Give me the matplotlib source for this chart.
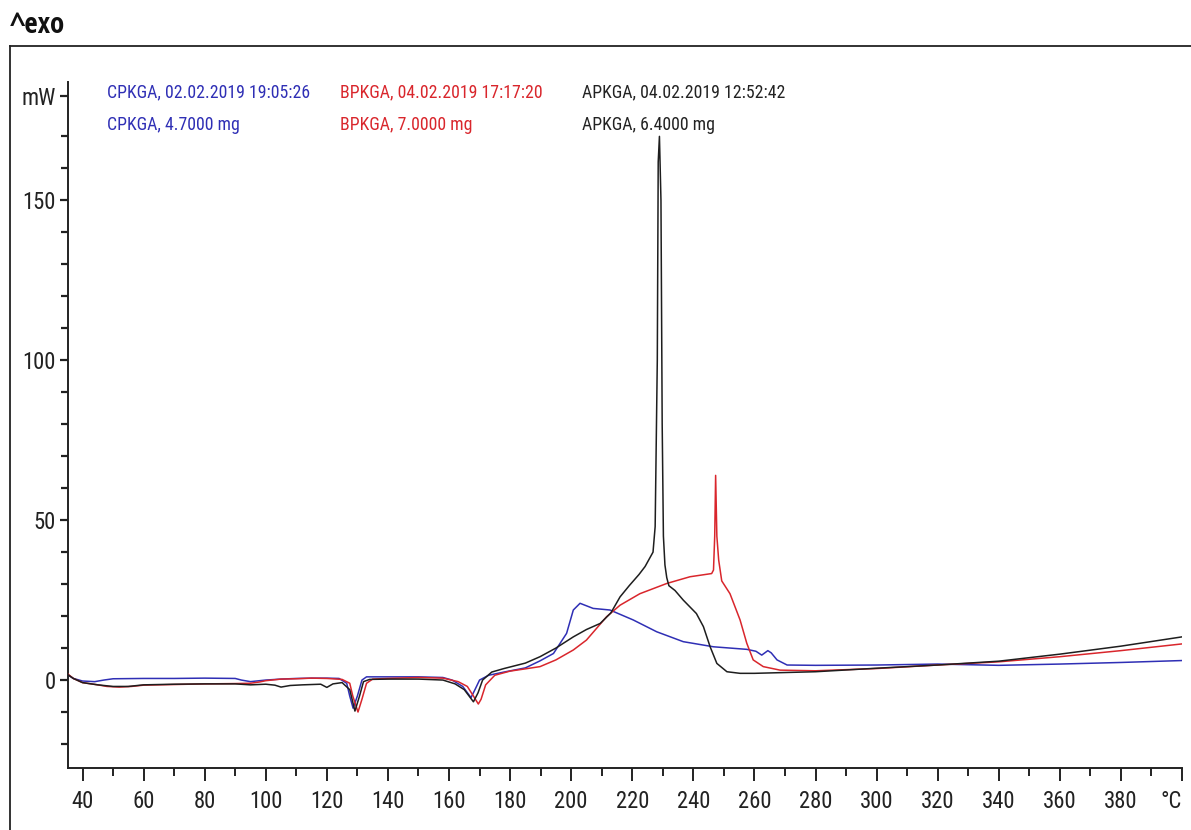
import matplotlib
matplotlib.use("Agg")
import matplotlib.pyplot as plt
from matplotlib.lines import Line2D
from matplotlib.ticker import MultipleLocator, FixedLocator
from matplotlib import font_manager
from matplotlib.font_manager import FontProperties
from matplotlib.textpath import TextPath
from matplotlib.ft2font import FT2Font

# ---- data (temperature in °C, heat flow in mW) ----
apkga_t = [35.3, 37, 40, 45, 50, 55, 60, 70, 80, 90, 95, 100, 103, 105, 108, 112, 118,
           120, 122, 125, 127.5, 129.2, 130.7, 132, 134, 140, 150, 158, 162, 165, 168,
           169.5, 171, 174, 178, 185, 189.8, 195, 200.7, 205, 209.5, 213, 216, 219,
           222.2, 224.2, 226.8, 227.5, 228.2, 228.5, 228.9, 229.4, 229.8, 230.2, 230.7,
           231.3, 232, 234, 236.7, 241, 243.3, 245.5, 247.7, 251, 255.3, 260, 280, 300,
           320, 340, 360, 380, 400]
apkga_mw = [1.6, 0.5, -0.8, -1.5, -2.0, -2.0, -1.5, -1.3, -1.2, -1.2, -1.5, -1.3, -1.6,
            -2.2, -1.7, -1.5, -1.3, -2.3, -1.2, -0.8, -3.0, -9.7, -5.0, -0.5, 0.2, 0.3,
            0.3, 0.0, -1.2, -3.0, -6.8, -4.0, 0.0, 2.5, 3.6, 5.3, 7.3, 10.0, 13.5, 15.8,
            17.7, 21.0, 26.0, 29.5, 33.0, 35.5, 40.0, 48.0, 100.0, 162.0, 170.0, 150.0,
            80.0, 45.0, 36.0, 32.0, 29.5, 28.0, 25.0, 20.8, 16.7, 10.4, 5.2, 2.6, 2.1,
            2.1, 2.6, 3.7, 4.7, 5.9, 8.1, 10.6, 13.5]

bpkga_t = [35.3, 37, 40, 45, 48, 52, 56, 60, 70, 80, 90, 95, 98, 100, 105, 110, 115, 120,
           125, 127.5, 128.5, 130.2, 131.5, 133, 135, 140, 150, 158, 163, 166, 168,
           169.6, 170.5, 172, 175, 180, 185, 189.8, 195, 200.7, 205, 211.6, 216, 222.5,
           231.3, 238.9, 246, 246.6, 247.0, 247.3, 247.7, 248.3, 249.3, 252, 255.3,
           257.5, 259.6, 262.9, 268.4, 280, 300, 320, 340, 360, 380, 400]
bpkga_mw = [1.8, 0.5, -0.8, -1.5, -2.0, -2.2, -2.0, -1.6, -1.4, -1.2, -1.1, -1.0, -0.6,
            -0.2, 0.3, 0.4, 0.6, 0.5, 0.2, -1.0, -5.0, -10.0, -6.0, -1.0, 0.3, 0.5, 0.8,
            0.6, -0.5, -2.0, -5.0, -7.5, -6.0, -1.5, 1.5, 2.8, 3.5, 4.2, 6.3, 9.4, 12.5,
            19.8, 23.4, 27.0, 30.2, 32.3, 33.3, 34.4, 45.0, 64.0, 45.0, 37.5, 31.0, 27.0,
            18.8, 11.5, 6.3, 4.2, 3.1, 2.9, 3.6, 4.7, 5.7, 7.3, 9.2, 11.3]

cpkga_t = [35.3, 37, 40, 44, 47, 50, 60, 70, 80, 90, 92, 95, 97, 100, 105, 110, 115, 120,
           124, 126.5, 127.5, 128.6, 130, 131.5, 133, 140, 150, 158, 161, 164.5, 167.2,
           168.5, 170, 173, 178, 185, 189.8, 194.2, 198.5, 200.7, 202.9, 207.2, 212.7,
           220.3, 228, 236.7, 246.6, 257.5, 260.5, 262.4, 264.4, 265.5, 267.4, 270.7,
           280, 300, 320, 340, 360, 380, 400]
cpkga_mw = [1.6, 0.5, -0.3, -0.5, 0.0, 0.4, 0.5, 0.5, 0.6, 0.5, 0.0, -0.5, -0.3, 0.0,
            0.3, 0.5, 0.6, 0.6, 0.5, -1.0, -5.0, -8.8, -5.0, 0.0, 1.0, 1.0, 1.0, 0.8, 0.0,
            -2.0, -5.5, -3.0, 0.0, 1.5, 2.5, 3.8, 6.0, 8.3, 14.6, 21.9, 24.0, 22.4, 21.9,
            18.8, 15.1, 12.0, 10.4, 9.6, 9.0, 7.8, 9.2, 8.5, 6.3, 4.7, 4.6, 4.7, 5.0, 4.6,
            5.0, 5.5, 6.1]

legend_lines = [
    ("CPKGA, 02.02.2019 19:05:26", "CPKGA, 4.7000 mg"),
    ("BPKGA, 04.02.2019 17:17:20", "BPKGA, 7.0000 mg"),
    ("APKGA, 04.02.2019 12:52:42", "APKGA, 6.4000 mg"),
]
x_major = list(range(40, 401, 20))
x_labels = [str(v) for v in x_major[:-1]] + ["°C"]
y_major = [0, 50, 100, 150]
y_labels = ["0", "50", "100", "150"]

# ---- font: among the standard installed sans families (incl. their narrow/condensed
#      widths), pick the one whose proportions best match the narrow original ----
FAMILIES = ("noto sans", "open sans", "roboto", "liberation sans", "dejavu sans", "lato", "inter")
WIDTH_WORDS = {"condensed", "semicondensed", "extracondensed", "ultracondensed", "narrow",
               "semi", "extra", "ultra"}
NEEDED = "^exoCPKGABAmgW0123456789:,.°"

def extents(fp, s):
    e = TextPath((0, 0), s, size=100, prop=fp).get_extents()
    return e.width, e.height

def weight_of(f):
    w = f.weight
    if isinstance(w, (int, float)):
        return w
    table = {"light": 300, "normal": 400, "regular": 400, "medium": 500,
             "semibold": 600, "bold": 700, "heavy": 900, "black": 900}
    return table.get(str(w).lower(), 400)

def family_ok(name):
    nm = name.lower()
    for fam in FAMILIES:
        if nm.startswith(fam):
            rest = nm[len(fam):].replace("-", " ").split()
            return all(t in WIDTH_WORDS for t in rest)
    return False

def covers(fname):
    try:
        ft = FT2Font(fname)
        return all(ft.get_char_index(ord(c)) != 0 for c in NEEDED)
    except Exception:
        return False

def pick_face(bold, sample, cap, target_ratio):
    lo, hi = (650, 750) if bold else (380, 420)
    best, best_err = None, None
    for f in font_manager.fontManager.ttflist:
        if f.style != "normal" or not family_ok(f.name):
            continue
        if not (lo <= weight_of(f) <= hi):
            continue
        base = f.fname.lower().rsplit("/", 1)[-1]
        if any(k in base for k in ("light", "thin", "medium", "semibold", "black",
                                   "extrabold", "italic", "[")):
            continue
        if bold != ("bold" in base):
            continue
        if not covers(f.fname):
            continue
        try:
            fp = FontProperties(fname=f.fname)
            w, _ = extents(fp, sample)
            _, h = extents(fp, cap)
        except Exception:
            continue
        err = abs(w / h - target_ratio)
        if best is None or err < best_err:
            best, best_err = f, err
    return best

LEG_SAMPLE = legend_lines[0][0]
face = pick_face(False, LEG_SAMPLE, "CPKHA", 201 / 14.0)
face_b = pick_face(True, "^exo", "exo", 52 / 15.0)
fname = face.fname if face is not None else None
fname_b = face_b.fname if face_b is not None else fname

def fp_at(fn, size, fallback_bold=False):
    if fn:
        return FontProperties(fname=fn, size=size)
    return FontProperties(family=["Liberation Sans", "DejaVu Sans"], size=size,
                          weight="bold" if fallback_bold else "normal")

base = fp_at(fname, 100)
w_leg, _ = extents(base, LEG_SAMPLE)
S_LEG = min(201 * 72 / w_leg, 14.5)
_, h_dig = extents(base, "150")
S_TICK = min(16.5 * 72 / h_dig, 17)
w_head, _ = extents(fp_at(fname_b, 100, True), "^exo")
S_HEAD = min(54 * 72 / w_head, 21)

FP_LEG = fp_at(fname, S_LEG)
FP_TICK = fp_at(fname, S_TICK)
FP_HEAD = fp_at(fname_b, S_HEAD, True)

# ---- styling ----
C_BLUE = "#2f2fb5"
C_RED = "#d9262c"
C_BLACK = "#1e1e1e"
W, H = 1191, 830

fig = plt.figure(figsize=(W / 100, H / 100), dpi=100)
fig.patch.set_facecolor("white")

ax = fig.add_axes([68 / W, 1 - 768 / H, (1182 - 68) / W, (768 - 82) / H])
ax.plot(cpkga_t, cpkga_mw, color=C_BLUE, lw=1.1, zorder=3)
ax.plot(bpkga_t, bpkga_mw, color=C_RED, lw=1.1, zorder=4)
ax.plot(apkga_t, apkga_mw, color=C_BLACK, lw=1.1, zorder=5)

ax.set_xlim(35.25, 400)
ax.set_ylim(-27.5, 187)
for s in ("top", "right"):
    ax.spines[s].set_visible(False)
for s in ("left", "bottom"):
    ax.spines[s].set_linewidth(1.4)
    ax.spines[s].set_color("#222222")

ax.xaxis.set_major_locator(FixedLocator(x_major))
ax.xaxis.set_minor_locator(MultipleLocator(10))
ax.yaxis.set_major_locator(FixedLocator(y_major + [182.5]))
ax.yaxis.set_minor_locator(FixedLocator([v for v in range(-20, 180, 10) if v % 50 != 0]))

ax.tick_params(axis="x", which="major", length=9, width=1.4, pad=7, colors="#222222")
ax.tick_params(axis="x", which="minor", length=6, width=1.4, colors="#222222")
ax.tick_params(axis="y", which="major", length=6, width=1.6, pad=3, colors="#222222")
ax.tick_params(axis="y", which="minor", length=5, width=1.6, colors="#222222")
ax.set_xticklabels(x_labels, color="#222222", fontproperties=FP_TICK)
ax.set_yticklabels(y_labels + ["mW"], color="#222222", fontproperties=FP_TICK)
ax.get_xticklabels()[-1].set_horizontalalignment("right")

# legend-like texts
xs = [107, 340, 582]
cols = [C_BLUE, C_RED, "#222222"]
for (l1, l2), x, c in zip(legend_lines, xs, cols):
    fig.text(x / W, 1 - 97.5 / H, l1, color=c, va="baseline", ha="left", fontproperties=FP_LEG)
    fig.text(x / W, 1 - 130 / H, l2, color=c, va="baseline", ha="left", fontproperties=FP_LEG)

# header and outer frame
fig.text(10 / W, 1 - 33 / H, "^exo", color="#111111", va="baseline", ha="left",
         fontproperties=FP_HEAD)
fig.add_artist(Line2D([10 / W, 1.0], [1 - 46 / H, 1 - 46 / H], transform=fig.transFigure,
                      color="#222222", lw=1.3))
fig.add_artist(Line2D([10 / W, 10 / W], [1 - 46 / H, 0.0], transform=fig.transFigure,
                      color="#222222", lw=1.3))

fig.savefig("out.png", dpi=100, facecolor="white")
